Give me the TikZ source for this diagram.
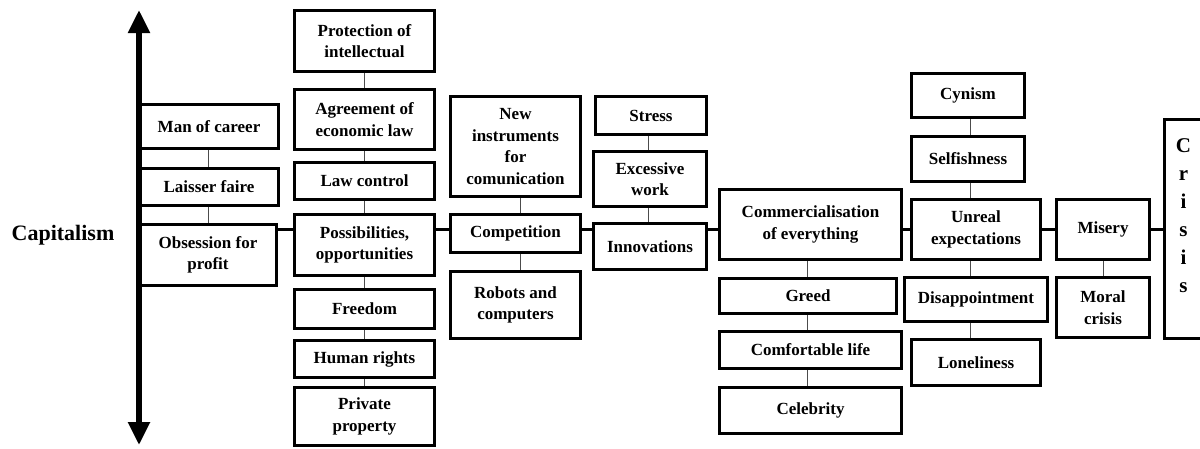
\documentclass[tikz,border=0pt]{standalone}
\usepackage{fontspec}
\setmainfont{Liberation Serif}
\usetikzlibrary{arrows.meta}
\tikzset{
  box/.style={draw=black, line width=3pt, rectangle, inner sep=1pt, align=center,
    font=\bfseries\fontsize{17}{21.5}\selectfont},
  thinconn/.style={draw=black!70, line width=1pt},
  thickconn/.style={draw=black, line width=3pt},
  axisline/.style={draw=black, line width=5.5pt, {Triangle[length=23pt,width=21pt]}-{Triangle[length=23pt,width=21pt]}},
  bigtext/.style={font=\bfseries\fontsize{22}{26}\selectfont, inner sep=0pt},
}
\begin{document}
\begin{tikzpicture}[x=1pt,y=-1pt]
\useasboundingbox (0,0) rectangle (1200,448);
% axis
\coordinate (axtop) at (139,10);
\coordinate (axbot) at (139,445);
\draw[axisline] (axbot) -- (axtop);
\node[bigtext] (cap) at (63,235) {Capitalism};
% main line level
\coordinate (main) at (0,229);
% column 1
\node[box, minimum width=139pt, minimum height=44pt] (career) at (209,126.5) {Man of career};
\node[box, minimum width=139pt, minimum height=37pt] (laisser) at (209,187) {Laisser faire};
\node[box, minimum width=137pt, minimum height=61pt] (obs) at (208,255) {Obsession for\\profit};
% column 2
\node[box, minimum width=140pt, minimum height=61pt] (prot) at (364.5,41) {Protection of\\intellectual};
\node[box, minimum width=140pt, minimum height=60pt] (agree) at (364.5,119.5) {Agreement of\\economic law};
\node[box, minimum width=140pt, minimum height=37pt] (lawc) at (364.5,181) {Law control};
\node[box, minimum width=140pt, minimum height=61pt] (poss) at (364.5,245) {Possibilities,\\opportunities};
\node[box, minimum width=140pt, minimum height=39pt] (free) at (364.5,309) {Freedom};
\node[box, minimum width=140pt, minimum height=37pt] (human) at (364.5,359) {Human rights};
\node[box, minimum width=140pt, minimum height=58pt] (priv) at (364.5,416.5) {Private\\property};
% column 3
\node[box, minimum width=130pt, minimum height=100pt] (newinst) at (515.5,146.5) {New\\instruments\\for\\comunication};
\node[box, minimum width=130pt, minimum height=38pt] (comp) at (515.5,233.5) {Competition};
\node[box, minimum width=130pt, minimum height=67pt] (robots) at (515.5,305) {Robots and\\computers};
% column 4
\node[box, minimum width=111pt, minimum height=38pt] (stress) at (651,115.5) {Stress};
\node[box, minimum width=113pt, minimum height=55pt] (excess) at (650,179) {Excessive\\work};
\node[box, minimum width=113pt, minimum height=46pt] (innov) at (650,246.5) {Innovations};
% column 5
\node[box, minimum width=182pt, minimum height=70pt] (comm) at (810.5,224.5) {Commercialisation\\of everything};
\node[box, minimum width=177pt, minimum height=35pt] (greed) at (808,296) {Greed};
\node[box, minimum width=182pt, minimum height=37pt] (comf) at (810.5,350) {Comfortable life};
\node[box, minimum width=182pt, minimum height=46pt] (celeb) at (810.5,410.5) {Celebrity};
% column 6
\node[box, minimum width=113pt, minimum height=44pt] (cyn) at (968,95.5) {Cynism};
\node[box, minimum width=113pt, minimum height=45pt] (self) at (968,159) {Selfishness};
\node[box, minimum width=129pt, minimum height=60pt] (unreal) at (976,229.5) {Unreal\\expectations};
\node[box, minimum width=143pt, minimum height=44pt] (disap) at (976,299.5) {Disappointment};
\node[box, minimum width=129pt, minimum height=46pt] (lone) at (976,362.5) {Loneliness};
% column 7
\node[box, minimum width=93pt, minimum height=60pt] (misery) at (1103,229.5) {Misery};
\node[box, minimum width=93pt, minimum height=60pt] (moral) at (1103,307.5) {Moral\\crisis};
% crisis
\node[box, minimum width=38pt, minimum height=219pt] (crisis) at (1183.5,229) {};
\node[font=\bfseries\fontsize{21}{28}\selectfont, align=center, inner sep=0pt] (crisistxt) at (1183.5,216) {C\\r\\i\\s\\i\\s};
% connector x positions
\coordinate (x1) at (208,0);
\coordinate (x2) at (364,0);
\coordinate (x3) at (520,0);
\coordinate (x4) at (648,0);
\coordinate (x5) at (807,0);
\coordinate (x6) at (970,0);
\coordinate (x7) at (1103,0);
% thin vertical connectors
\draw[thinconn] (career.south -| x1) -- (laisser.north -| x1);
\draw[thinconn] (laisser.south -| x1) -- (obs.north -| x1);
\draw[thinconn] (prot.south -| x2) -- (agree.north -| x2);
\draw[thinconn] (agree.south -| x2) -- (lawc.north -| x2);
\draw[thinconn] (lawc.south -| x2) -- (poss.north -| x2);
\draw[thinconn] (poss.south -| x2) -- (free.north -| x2);
\draw[thinconn] (free.south -| x2) -- (human.north -| x2);
\draw[thinconn] (human.south -| x2) -- (priv.north -| x2);
\draw[thinconn] (newinst.south -| x3) -- (comp.north -| x3);
\draw[thinconn] (comp.south -| x3) -- (robots.north -| x3);
\draw[thinconn] (stress.south -| x4) -- (excess.north -| x4);
\draw[thinconn] (excess.south -| x4) -- (innov.north -| x4);
\draw[thinconn] (comm.south -| x5) -- (greed.north -| x5);
\draw[thinconn] (greed.south -| x5) -- (comf.north -| x5);
\draw[thinconn] (comf.south -| x5) -- (celeb.north -| x5);
\draw[thinconn] (cyn.south -| x6) -- (self.north -| x6);
\draw[thinconn] (self.south -| x6) -- (unreal.north -| x6);
\draw[thinconn] (unreal.south -| x6) -- (disap.north -| x6);
\draw[thinconn] (disap.south -| x6) -- (lone.north -| x6);
\draw[thinconn] (misery.south -| x7) -- (moral.north -| x7);
% thick horizontal connectors
\draw[thickconn] (obs.east |- main) -- (poss.west |- main);
\draw[thickconn] (poss.east |- main) -- (comp.west |- main);
\draw[thickconn] (comp.east |- main) -- (innov.west |- main);
\draw[thickconn] (innov.east |- main) -- (comm.west |- main);
\draw[thickconn] (comm.east |- main) -- (unreal.west |- main);
\draw[thickconn] (unreal.east |- main) -- (misery.west |- main);
\draw[thickconn] (misery.east |- main) -- (crisis.west |- main);
\end{tikzpicture}
\end{document}
